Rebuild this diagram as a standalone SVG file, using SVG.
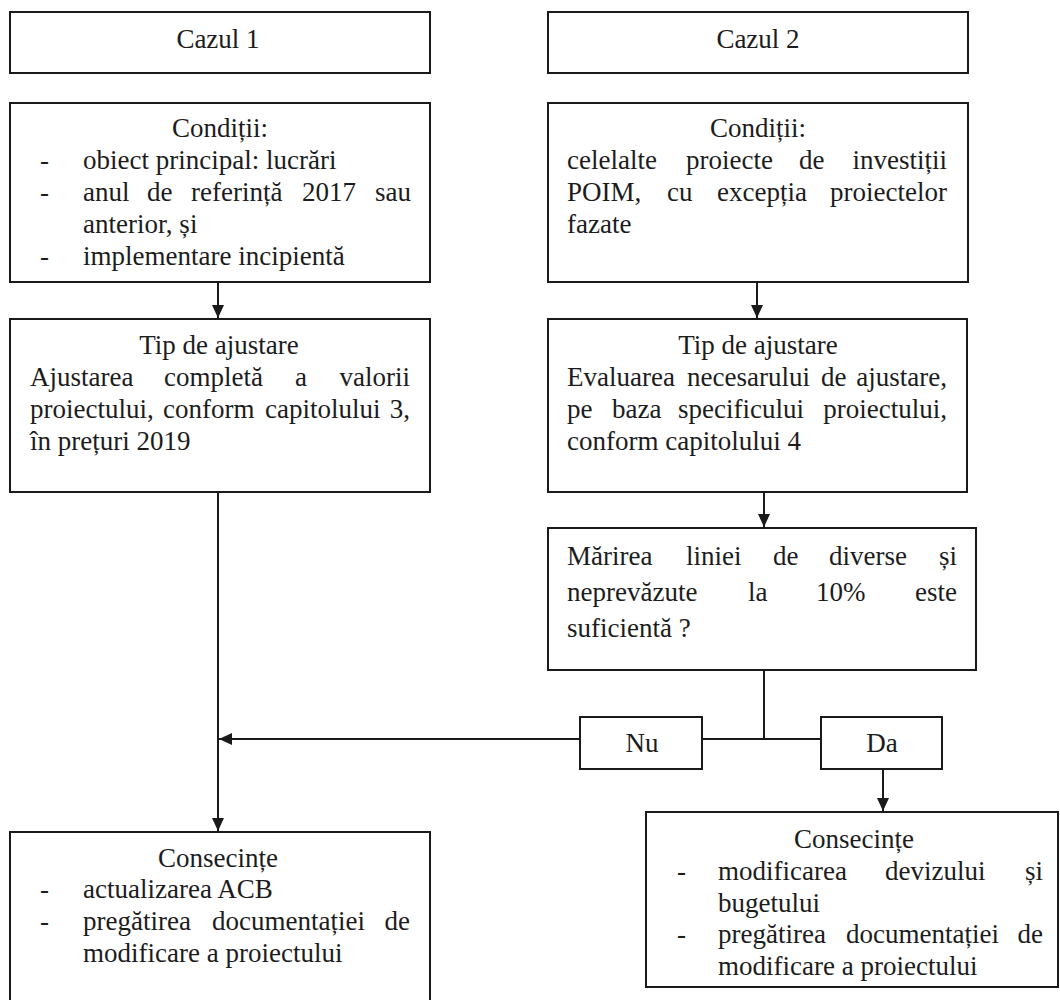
<svg xmlns="http://www.w3.org/2000/svg" width="1060" height="1000" viewBox="0 0 1060 1000">
<style>
.box{fill:#fff;stroke:#1a1a1a;stroke-width:2}
.t{font-family:"Liberation Serif","Times New Roman",serif;font-size:27px;fill:#1c1c1c}
.c{text-anchor:middle}
.e{text-anchor:end}
.ln{fill:none;stroke:#1a1a1a;stroke-width:2}
</style>
<defs>
<marker id="ah" markerUnits="userSpaceOnUse" markerWidth="14" markerHeight="14" viewBox="0 0 14 14" refX="13" refY="7" orient="auto">
<path d="M0,1 L13,7 L0,13 Z" fill="#1a1a1a"/>
</marker>
</defs>
<rect width="1060" height="1000" fill="#fff"/>

<g id="connectors">
<line class="ln" x1="218" y1="282" x2="218" y2="318" marker-end="url(#ah)"/>
<line class="ln" x1="757" y1="282" x2="757" y2="318" marker-end="url(#ah)"/>
<line class="ln" x1="764" y1="492" x2="764" y2="527" marker-end="url(#ah)"/>
<line class="ln" x1="218" y1="492" x2="218" y2="831" marker-end="url(#ah)"/>
<line class="ln" x1="764" y1="670" x2="764" y2="739"/>
<line class="ln" x1="702" y1="739" x2="821" y2="739"/>
<line class="ln" x1="580" y1="739" x2="219" y2="739" marker-end="url(#ah)"/>
<line class="ln" x1="883" y1="769" x2="883" y2="811" marker-end="url(#ah)"/>
</g>

<g id="cazul1">
<rect class="box" x="10" y="12" width="420" height="61"/>
<text class="t c" x="218" y="48">Cazul 1</text>
</g>

<g id="cazul2">
<rect class="box" x="548" y="12" width="420" height="61"/>
<text class="t c" x="758" y="48">Cazul 2</text>
</g>

<g id="conditii1">
<rect class="box" x="10" y="103" width="420" height="179"/>
<text class="t c" x="220" y="137">Condiții:</text>
<text class="t" x="40" y="169">-</text>
<text class="t" x="83" y="169">obiect principal: lucrări</text>
<text class="t" x="40" y="201">-</text>
<text class="t" y="201"><tspan x="83">anul</tspan><tspan x="147">de</tspan><tspan x="191">referință</tspan><tspan x="302">2017</tspan></text>
<text class="t e" x="411" y="201">sau</text>
<text class="t" x="83" y="233">anterior, și</text>
<text class="t" x="40" y="265">-</text>
<text class="t" x="83" y="265">implementare incipientă</text>
</g>

<g id="conditii2">
<rect class="box" x="548" y="103" width="420" height="179"/>
<text class="t c" x="758" y="137">Condiții:</text>
<text class="t" y="169"><tspan x="567">celelalte</tspan><tspan x="686">proiecte</tspan><tspan x="799">de</tspan></text>
<text class="t e" x="947" y="169">investiții</text>
<text class="t" y="201"><tspan x="567">POIM,</tspan><tspan x="667">cu</tspan><tspan x="717">excepția</tspan></text>
<text class="t e" x="947" y="201">proiectelor</text>
<text class="t" x="567" y="233">fazate</text>
</g>

<g id="tip1">
<rect class="box" x="10" y="319" width="420" height="173"/>
<text class="t c" x="219" y="354">Tip de ajustare</text>
<text class="t" y="386"><tspan x="30">Ajustarea</tspan><tspan x="164">completă</tspan><tspan x="295">a</tspan></text>
<text class="t e" x="410" y="386">valorii</text>
<text class="t" y="418"><tspan x="30">proiectului,</tspan><tspan x="163">conform</tspan><tspan x="265">capitolului</tspan></text>
<text class="t e" x="410" y="418">3,</text>
<text class="t" x="30" y="450">în prețuri 2019</text>
</g>

<g id="tip2">
<rect class="box" x="548" y="319" width="419" height="173"/>
<text class="t c" x="758" y="354">Tip de ajustare</text>
<text class="t" y="386"><tspan x="567">Evaluarea</tspan><tspan x="687">necesarului</tspan><tspan x="821">de</tspan></text>
<text class="t e" x="947" y="386">ajustare,</text>
<text class="t" y="418"><tspan x="567">pe</tspan><tspan x="612">baza</tspan><tspan x="678">specificului</tspan></text>
<text class="t e" x="947" y="418">proiectului,</text>
<text class="t" x="567" y="450">conform capitolului 4</text>
</g>

<g id="decizie">
<rect class="box" x="548" y="528" width="428" height="142"/>
<text class="t" y="565"><tspan x="567">Mărirea</tspan><tspan x="686">liniei</tspan><tspan x="773">de</tspan><tspan x="829">diverse</tspan></text>
<text class="t e" x="957" y="565">și</text>
<text class="t" y="601"><tspan x="567">neprevăzute</tspan><tspan x="748">la</tspan><tspan x="816">10%</tspan></text>
<text class="t e" x="957" y="601">este</text>
<text class="t" x="567" y="637">suficientă ?</text>
</g>

<g id="nu">
<rect class="box" x="580" y="717" width="122" height="52"/>
<text class="t c" x="642" y="752">Nu</text>
</g>

<g id="da">
<rect class="box" x="821" y="717" width="121" height="52"/>
<text class="t c" x="882" y="752">Da</text>
</g>

<g id="consecinte1">
<rect class="box" x="10" y="832" width="420" height="180"/>
<text class="t c" x="218" y="867">Consecințe</text>
<text class="t" x="40" y="898">-</text>
<text class="t" x="83" y="898">actualizarea ACB</text>
<text class="t" x="40" y="930">-</text>
<text class="t" y="930"><tspan x="83">pregătirea</tspan><tspan x="212">documentației</tspan></text>
<text class="t e" x="410" y="930">de</text>
<text class="t" x="83" y="962">modificare a proiectului</text>
</g>

<g id="consecinte2">
<rect class="box" x="646" y="812" width="412" height="175"/>
<text class="t c" x="854" y="848">Consecințe</text>
<text class="t" x="677" y="880">-</text>
<text class="t" y="880"><tspan x="718">modificarea</tspan><tspan x="885">devizului</tspan></text>
<text class="t e" x="1043" y="880">și</text>
<text class="t" x="718" y="912">bugetului</text>
<text class="t" x="677" y="943">-</text>
<text class="t" y="943"><tspan x="718">pregătirea</tspan><tspan x="846">documentației</tspan></text>
<text class="t e" x="1043" y="943">de</text>
<text class="t" x="718" y="975">modificare a proiectului</text>
</g>
</svg>
